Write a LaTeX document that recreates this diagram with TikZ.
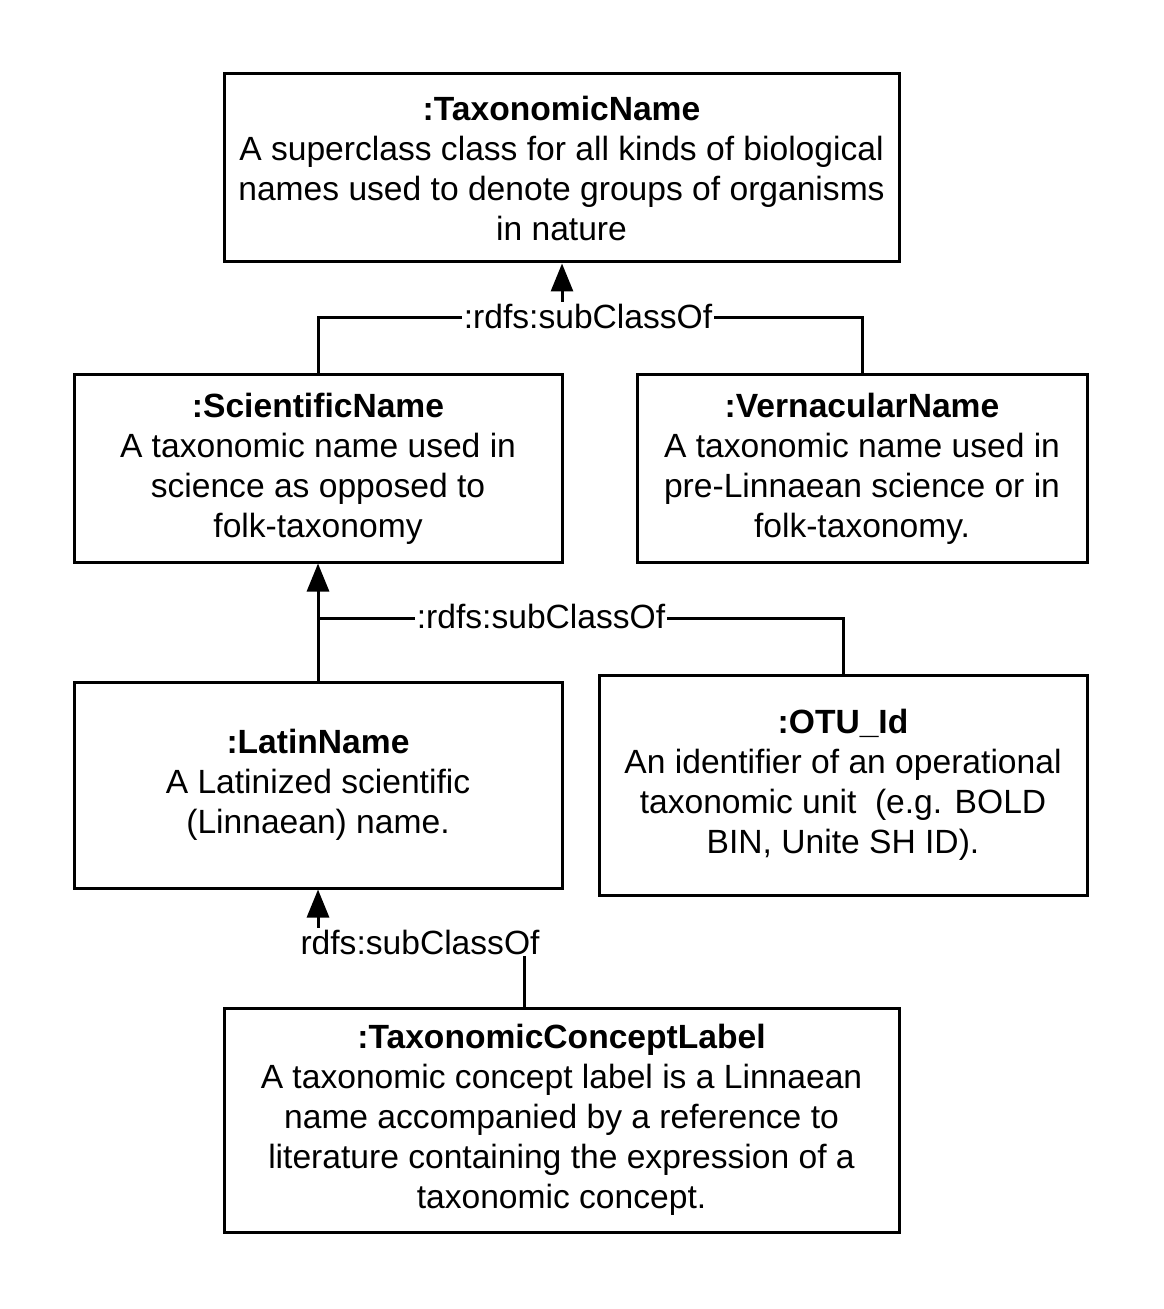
\documentclass[tikz,border=0pt]{standalone}
\usepackage{fontspec}
\setmainfont{Liberation Sans}
\usetikzlibrary{arrows.meta}
\tikzset{
    class-box/.style = {draw=black, fill=white, line width=1.5pt, rectangle, align=center, inner sep=0pt, font=\fontsize{16.8}{20}\selectfont},
    subclass-label/.style = {fill=white, inner sep=1pt, font=\fontsize{16.8}{20}\selectfont},
    subclass-line/.style = {line width=1.5pt},
    subclass-arrow/.style = {line width=1.5pt, -{Triangle[length=14pt, width=11pt]}},
}

\begin{document}
\begin{tikzpicture}[x=0.5pt, y=-0.5pt]
\useasboundingbox (0,0) rectangle (1163,1309);

\node [class-box, minimum width=337.5pt, minimum height=94pt] (tax) at (561.5,168) {{\bfseries :TaxonomicName}\\
    A superclass class for all kinds of biological\\
    names used to denote groups of organisms\\
    in nature};
\node [class-box, minimum width=244pt, minimum height=93.5pt] (sci) at (318,468.5) {{\bfseries :ScientificName}\\
    A taxonomic name used in\\
    science as opposed to\\
    folk-taxonomy};
\node [class-box, minimum width=225pt, minimum height=93.5pt] (vern) at (862,468.5) {{\bfseries :VernacularName}\\
    A taxonomic name used in\\
    pre-Linnaean science or in\\
    folk-taxonomy.};
\node [class-box, minimum width=244pt, minimum height=103pt] (latin) at (318,785) {{\bfseries :LatinName}\\
    A Latinized scientific\\
    (Linnaean) name.};
\node [class-box, minimum width=244pt, minimum height=110pt] (otu) at (843,785) {{\bfseries :OTU\_Id}\\
    An identifier of an operational\\
    taxonomic unit\ \ (e.g. BOLD\\
    BIN, Unite SH ID).};
\node [class-box, minimum width=337.5pt, minimum height=112pt] (tcl) at (561.5,1120) {{\bfseries :TaxonomicConceptLabel}\\
    A taxonomic concept label is a Linnaean\\
    name accompanied by a reference to\\
    literature containing the expression of a\\
    taxonomic concept.};

% top level
\coordinate (j1) at (562,318);
\draw [subclass-line] (sci.north) |- (j1) -| (vern.north);
\draw [subclass-arrow] (j1) -- (tax.south -| j1);
\node [subclass-label] (l1) at (588,316) {:rdfs:subClassOf};

% middle level
\coordinate (j2) at (318,618);
\draw [subclass-line] (otu.north) |- (j2);
\draw [subclass-arrow] (latin.north) -- (sci.south);
\node [subclass-label] (l2) at (541,616) {:rdfs:subClassOf};

% bottom level
\coordinate (j3) at (524,940);
\draw [subclass-arrow] (tcl.north -| j3) -- (j3) -| (latin.south);
\node [subclass-label] (l3) at (420,942) {rdfs:subClassOf};
\end{tikzpicture}
\end{document}
